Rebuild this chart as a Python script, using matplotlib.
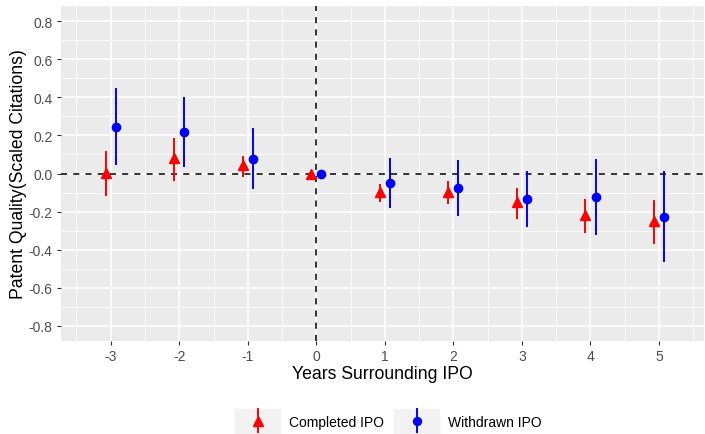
import numpy as np
import matplotlib as mpl
mpl.use('Agg')
import matplotlib.pyplot as plt
from matplotlib.patches import Rectangle
from matplotlib.legend_handler import HandlerErrorbar

plt.rcParams['font.family'] = ['Liberation Sans', 'DejaVu Sans']
plt.rcParams['axes.unicode_minus'] = False

# Data
years = [-3, -2, -1, 0, 1, 2, 3, 4, 5]

completed = [0.005, 0.08, 0.046, 0.0, -0.099, -0.095, -0.151, -0.216, -0.248]
completed_lo = [-0.116, -0.038, -0.017, 0.0, -0.148, -0.158, -0.237, -0.312, -0.368]
completed_hi = [0.118, 0.188, 0.093, 0.0, -0.055, -0.041, -0.078, -0.134, -0.139]

withdrawn = [0.246, 0.219, 0.078, 0.0, -0.05, -0.074, -0.134, -0.123, -0.227]
withdrawn_lo = [0.046, 0.032, -0.081, 0.0, -0.183, -0.223, -0.282, -0.324, -0.464]
withdrawn_hi = [0.447, 0.403, 0.239, 0.0, 0.08, 0.071, 0.012, 0.074, 0.012]

x = np.array(years, dtype=float)
dodge = 0.075

fig = plt.figure(figsize=(7.05, 4.35), dpi=100)
ax = fig.add_axes([0.0865, 0.2138, 0.912, 0.7701])
ax.set_facecolor('#EBEBEB')
for s in ax.spines.values():
    s.set_visible(False)

yt = np.round(np.arange(-0.8, 0.81, 0.2), 1)
ax.set_xlim(-3.726, 5.657)
ax.set_ylim(-0.879, 0.879)
ax.set_xticks(years)
ax.set_yticks(yt)
ax.set_yticklabels([f'{abs(v):.1f}' if v == 0 else f'{v:.1f}' for v in yt])
ax.set_xticks(np.arange(-3.5, 5.6, 1.0), minor=True)
ax.set_yticks(np.arange(-0.7, 0.71, 0.2), minor=True)
ax.grid(True, which='major', color='white', linewidth=1.1)
ax.grid(True, which='minor', color='white', linewidth=0.55)
ax.set_axisbelow(True)
ax.tick_params(which='major', colors='#333333', labelcolor='#4D4D4D',
               labelsize=10, length=3, width=0.8, pad=3)
ax.tick_params(which='minor', length=0)

ax.axhline(0, color='black', linestyle=(0, (4, 4)), linewidth=1.1, zorder=2)
ax.axvline(0, color='black', linestyle=(0, (4, 4)), linewidth=1.1, zorder=2)

c = np.array(completed)
w = np.array(withdrawn)
c_err = [c - np.array(completed_lo), np.array(completed_hi) - c]
w_err = [w - np.array(withdrawn_lo), np.array(withdrawn_hi) - w]

h1 = ax.errorbar(x - dodge, c, yerr=c_err, fmt='^', color='red', ms=7.5,
                 elinewidth=1.4, capsize=0, label='Completed IPO', zorder=3)
h2 = ax.errorbar(x + dodge, w, yerr=w_err, fmt='o', color='blue', ms=6,
                 elinewidth=1.4, capsize=0, label='Withdrawn IPO', zorder=3)

ax.set_xlabel('Years Surrounding IPO', fontsize=12.7, labelpad=1)
ax.set_ylabel('Patent Quality(Scaled Citations)', fontsize=12.7, labelpad=1)

# legend key backgrounds
for x0 in (235, 394):
    fig.patches.append(Rectangle((x0 / 705, 0), 45 / 705, 25 / 435,
                                 transform=fig.transFigure, color='#F2F2F2', zorder=0))

hm = {h1: HandlerErrorbar(yerr_size=0.9), h2: HandlerErrorbar(yerr_size=0.9)}
fig.legend(handles=[h1, h2], handler_map=hm, loc='center',
           bbox_to_anchor=(0.561, 0.0287), ncol=2, frameon=False, fontsize=10,
           handlelength=1.3, columnspacing=1.7, handletextpad=1.6, markerscale=0.95)

fig.savefig('out.png', dpi=100)
